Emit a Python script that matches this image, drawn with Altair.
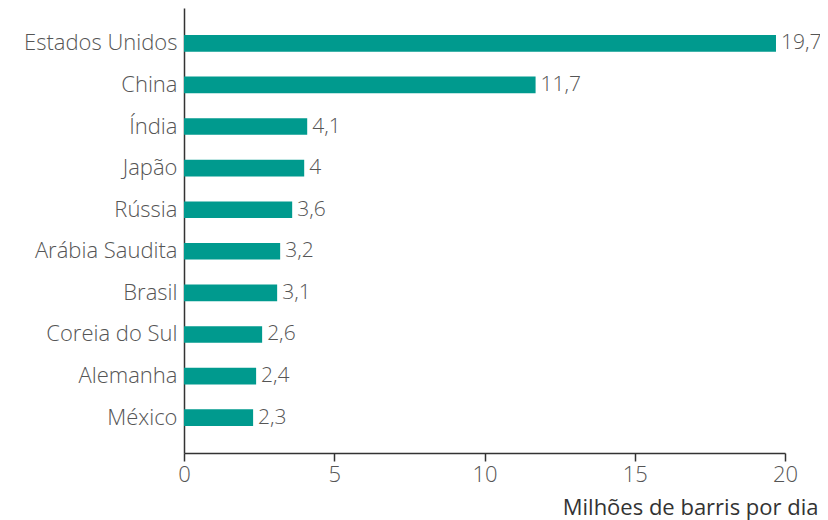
import altair as alt
import pandas as pd

countries = ["Estados Unidos", "China", "Índia", "Japão", "Rússia",
             "Arábia Saudita", "Brasil", "Coreia do Sul", "Alemanha", "México"]
values = [19.7, 11.7, 4.1, 4, 3.6, 3.2, 3.1, 2.6, 2.4, 2.3]
labels = ["19,7", "11,7", "4,1", "4", "3,6", "3,2", "3,1", "2,6", "2,4", "2,3"]

df = pd.DataFrame({"pais": countries, "valor": values, "rotulo": labels})

FONT = "Open Sans"
GREY = "#555555"
DARK = "#333333"
TEAL = "#009a8e"

y = alt.Y("pais:N", sort=countries,
          scale=alt.Scale(paddingInner=0.6, paddingOuter=0.65),
          axis=alt.Axis(title=None, ticks=False, labelPadding=7, labelFontSize=22,
                        labelColor=GREY, labelFont=FONT, labelFontWeight=300,
                        domainColor=DARK, domainWidth=1.5, grid=False))
x = alt.X("valor:Q", scale=alt.Scale(domain=[0, 20], nice=False),
          axis=alt.Axis(values=[0, 5, 10, 15, 20], title="Milhões de barris por dia",
                        titleAlign="right", titleAnchor="end", titleX=634, titleY=61,
                        titleBaseline="alphabetic",
                        titleFontSize=22, titleFont=FONT, titleFontWeight="normal",
                        titleColor=DARK,
                        tickSize=8, tickColor=DARK, tickWidth=1.5,
                        domainColor=DARK, domainWidth=1.5, labelFlush=False,
                        labelFontSize=22, labelFont=FONT, labelFontWeight=300,
                        labelColor=GREY, labelPadding=3, grid=False))

bars = alt.Chart(df).mark_bar(color=TEAL).encode(x=x, y=y)
text = alt.Chart(df).mark_text(align="left", baseline="middle", dx=5, fontSize=21,
                               font=FONT, fontWeight=300, color=GREY).encode(
    x="valor:Q", y=alt.Y("pais:N", sort=countries), text="rotulo:N")

chart = (bars + text).properties(
    width=601, height=445,
    autosize=alt.AutoSizeParams(type="none"),
    padding={"left": 176, "top": 0, "right": 35, "bottom": 68},
).configure_view(stroke=None)

chart.save("out.html", embed_options={"renderer": "svg", "actions": False})
